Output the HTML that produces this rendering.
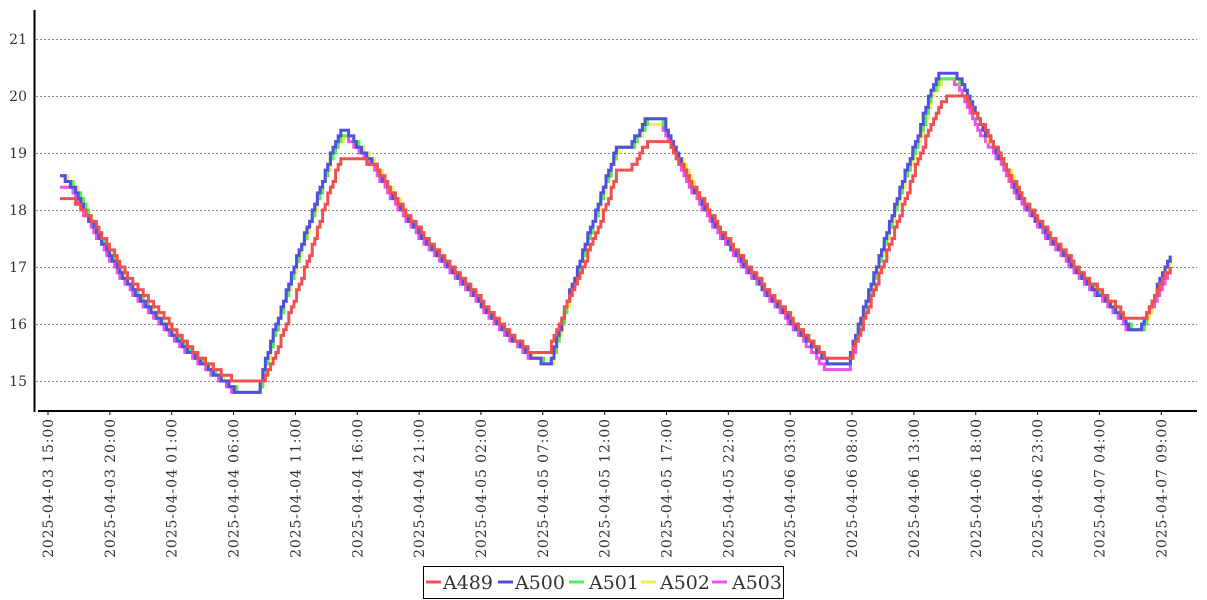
<!DOCTYPE html>
<html><head><meta charset="utf-8"><style>
body{margin:0;background:#fff;}
svg{display:block;font-family:"DejaVu Serif","Liberation Serif",serif;}
</style></head><body>
<svg id="s" width="1207" height="600" xmlns="http://www.w3.org/2000/svg">
<g stroke="#888" stroke-dasharray="2,2" stroke-width="1">
<line x1="36" x2="1197" y1="39.5" y2="39.5"/><line x1="36" x2="1197" y1="96.5" y2="96.5"/>
<line x1="36" x2="1197" y1="153.5" y2="153.5"/><line x1="36" x2="1197" y1="210.5" y2="210.5"/>
<line x1="36" x2="1197" y1="267.5" y2="267.5"/><line x1="36" x2="1197" y1="324.5" y2="324.5"/>
<line x1="36" x2="1197" y1="381.5" y2="381.5"/>
</g>
<g font-size="14" text-anchor="end" fill="#333">
<text x="27" y="44">21</text><text x="27" y="101">20</text><text x="27" y="158">19</text>
<text x="27" y="215">18</text><text x="27" y="272">17</text><text x="27" y="329">16</text><text x="27" y="386">15</text>
</g>
<g id="series" fill="none" stroke-width="3"></g>
<line x1="34.5" y1="10" x2="34.5" y2="412" stroke="#000" stroke-width="2"/>
<line x1="38" x2="1197" y1="411" y2="411" stroke="#000" stroke-width="2"/>
<g id="xt" font-size="14" fill="#333" letter-spacing="0.9"></g>
<rect x="423.5" y="566.5" width="360" height="32" fill="#fff" stroke="#000"/>
<g font-size="19" fill="#333">
<line x1="426" x2="441" y1="582" y2="582" stroke="#f05050" stroke-width="3"/><text x="443" y="589">A489</text>
<line x1="498" x2="513" y1="582" y2="582" stroke="#5050e0" stroke-width="3"/><text x="515" y="589">A500</text>
<line x1="569" x2="584" y1="582" y2="582" stroke="#50f050" stroke-width="3"/><text x="589" y="589">A501</text>
<line x1="641" x2="656" y1="582" y2="582" stroke="#f0f050" stroke-width="3"/><text x="660" y="589">A502</text>
<line x1="712" x2="727" y1="582" y2="582" stroke="#f050f0" stroke-width="3"/><text x="732" y="589">A503</text>
</g>
</svg>
<script>
var NS="http://www.w3.org/2000/svg";
var labels=["2025-04-03  15:00","2025-04-03  20:00","2025-04-04  01:00","2025-04-04  06:00","2025-04-04  11:00","2025-04-04  16:00","2025-04-04  21:00","2025-04-05  02:00","2025-04-05  07:00","2025-04-05  12:00","2025-04-05  17:00","2025-04-05  22:00","2025-04-06  03:00","2025-04-06  08:00","2025-04-06  13:00","2025-04-06  18:00","2025-04-06  23:00","2025-04-07  04:00","2025-04-07  09:00"];
var xt=document.getElementById("xt");
labels.forEach(function(l,i){var x=48+i*61.85;
var ln=document.createElementNS(NS,"line");ln.setAttribute("x1",x);ln.setAttribute("x2",x);ln.setAttribute("y1",411);ln.setAttribute("y2",415);ln.setAttribute("stroke","#000");xt.appendChild(ln);
var t=document.createElementNS(NS,"text");t.setAttribute("transform","translate("+(x+5)+",418) rotate(-90)");t.setAttribute("text-anchor","end");t.setAttribute("xml:space","preserve");t.textContent=l;xt.appendChild(t);});
function Y(v){return 381+(15-v)*57;}
var B=[[60,18.6],[73,18.4],[90,17.8],[123,16.8],[157,16.1],[190,15.5],[223,15.0],[237,14.8],[257,14.8],[273,15.85],[300,17.35],[317,18.23],[333,19.1],[342,19.4],[346,19.4],[353,19.2],[373,18.8],[407,17.85],[433,17.3],[467,16.65],[500,15.95],[527,15.5],[532,15.4],[540,15.4],[542,15.3],[546,15.3],[550,15.35],[567,16.42],[600,18.23],[615,19.05],[630,19.1],[645,19.6],[662,19.6],[667,19.4],[690,18.47],[720,17.6],[750,16.9],[800,15.85],[827,15.3],[847,15.3],[860,16.07],[900,18.4],[920,19.45],[930,20.1],[940,20.4],[953,20.4],[963,20.2],[980,19.5],[1000,18.9],[1020,18.2],[1050,17.5],[1083,16.8],[1117,16.2],[1130,15.9],[1140,15.9],[1172,17.3]];
var R=[[60,18.2],[70,18.2],[77,18.1],[92,17.8],[125,16.9],[160,16.2],[190,15.55],[225,15.1],[237,14.95],[257,14.95],[262,15.0],[273,15.37],[307,17.1],[323,18.0],[340,18.9],[357,18.9],[373,18.8],[407,17.9],[433,17.35],[467,16.7],[500,16.0],[527,15.55],[533,15.5],[548,15.5],[565,16.3],[600,17.77],[617,18.7],[630,18.7],[647,19.2],[667,19.2],[690,18.5],[720,17.65],[750,16.95],[800,15.9],[827,15.4],[850,15.4],[860,15.9],[900,17.94],[920,19.0],[935,19.7],[947,20.0],[963,20.0],[980,19.55],[1000,18.95],[1020,18.25],[1050,17.55],[1083,16.85],[1117,16.3],[1125,16.1],[1143,16.1],[1172,17.1]];
function shift(k,dDesc,dRise,hiAdj,troughAdj){return k.map(function(p,i){var v=p[1];
var desc=(i<k.length-1&&k[i+1][1]<v)||(i>0&&k[i-1][1]>v);
if(v>19.25)v-=hiAdj; if(p[0]>800&&p[0]<860&&v<15.35)v-=troughAdj;
return [Math.max(60,p[0]+(desc?dDesc:dRise)),v];});}
var P=shift(B,-2.5,1,0.1,0.1);P[0]=[60,18.4];P[P.length-1]=[1172,17.1];
var G=shift(B,1,1,0.05,0);var Yl=shift(B,2,1.5,0.1,0);
var S=[["#f050f0",P],["#f0f050",Yl],["#50f050",G],["#5050e0",B],["#f05050",R]];
var g=document.getElementById("series");
S.forEach(function(s){var k=s[1],d="",prev=null;
for(var x=60;x<=1172;x+=2.6){var i=0;while(i<k.length-2&&k[i+1][0]<x)i++;
var a=k[i],b=k[i+1],t=Math.max(0,Math.min(1,(x-a[0])/(b[0]-a[0])));
var v=Math.round((a[1]+(b[1]-a[1])*t)*10)/10;
var y=Y(v).toFixed(1);if(prev===null)d="M"+x.toFixed(1)+","+y;else{d+="H"+x.toFixed(1);if(y!==prev)d+="V"+y;}prev=y;}
var p=document.createElementNS(NS,"path");p.setAttribute("d",d);p.setAttribute("stroke",s[0]);g.appendChild(p);});
</script>
</body></html>
